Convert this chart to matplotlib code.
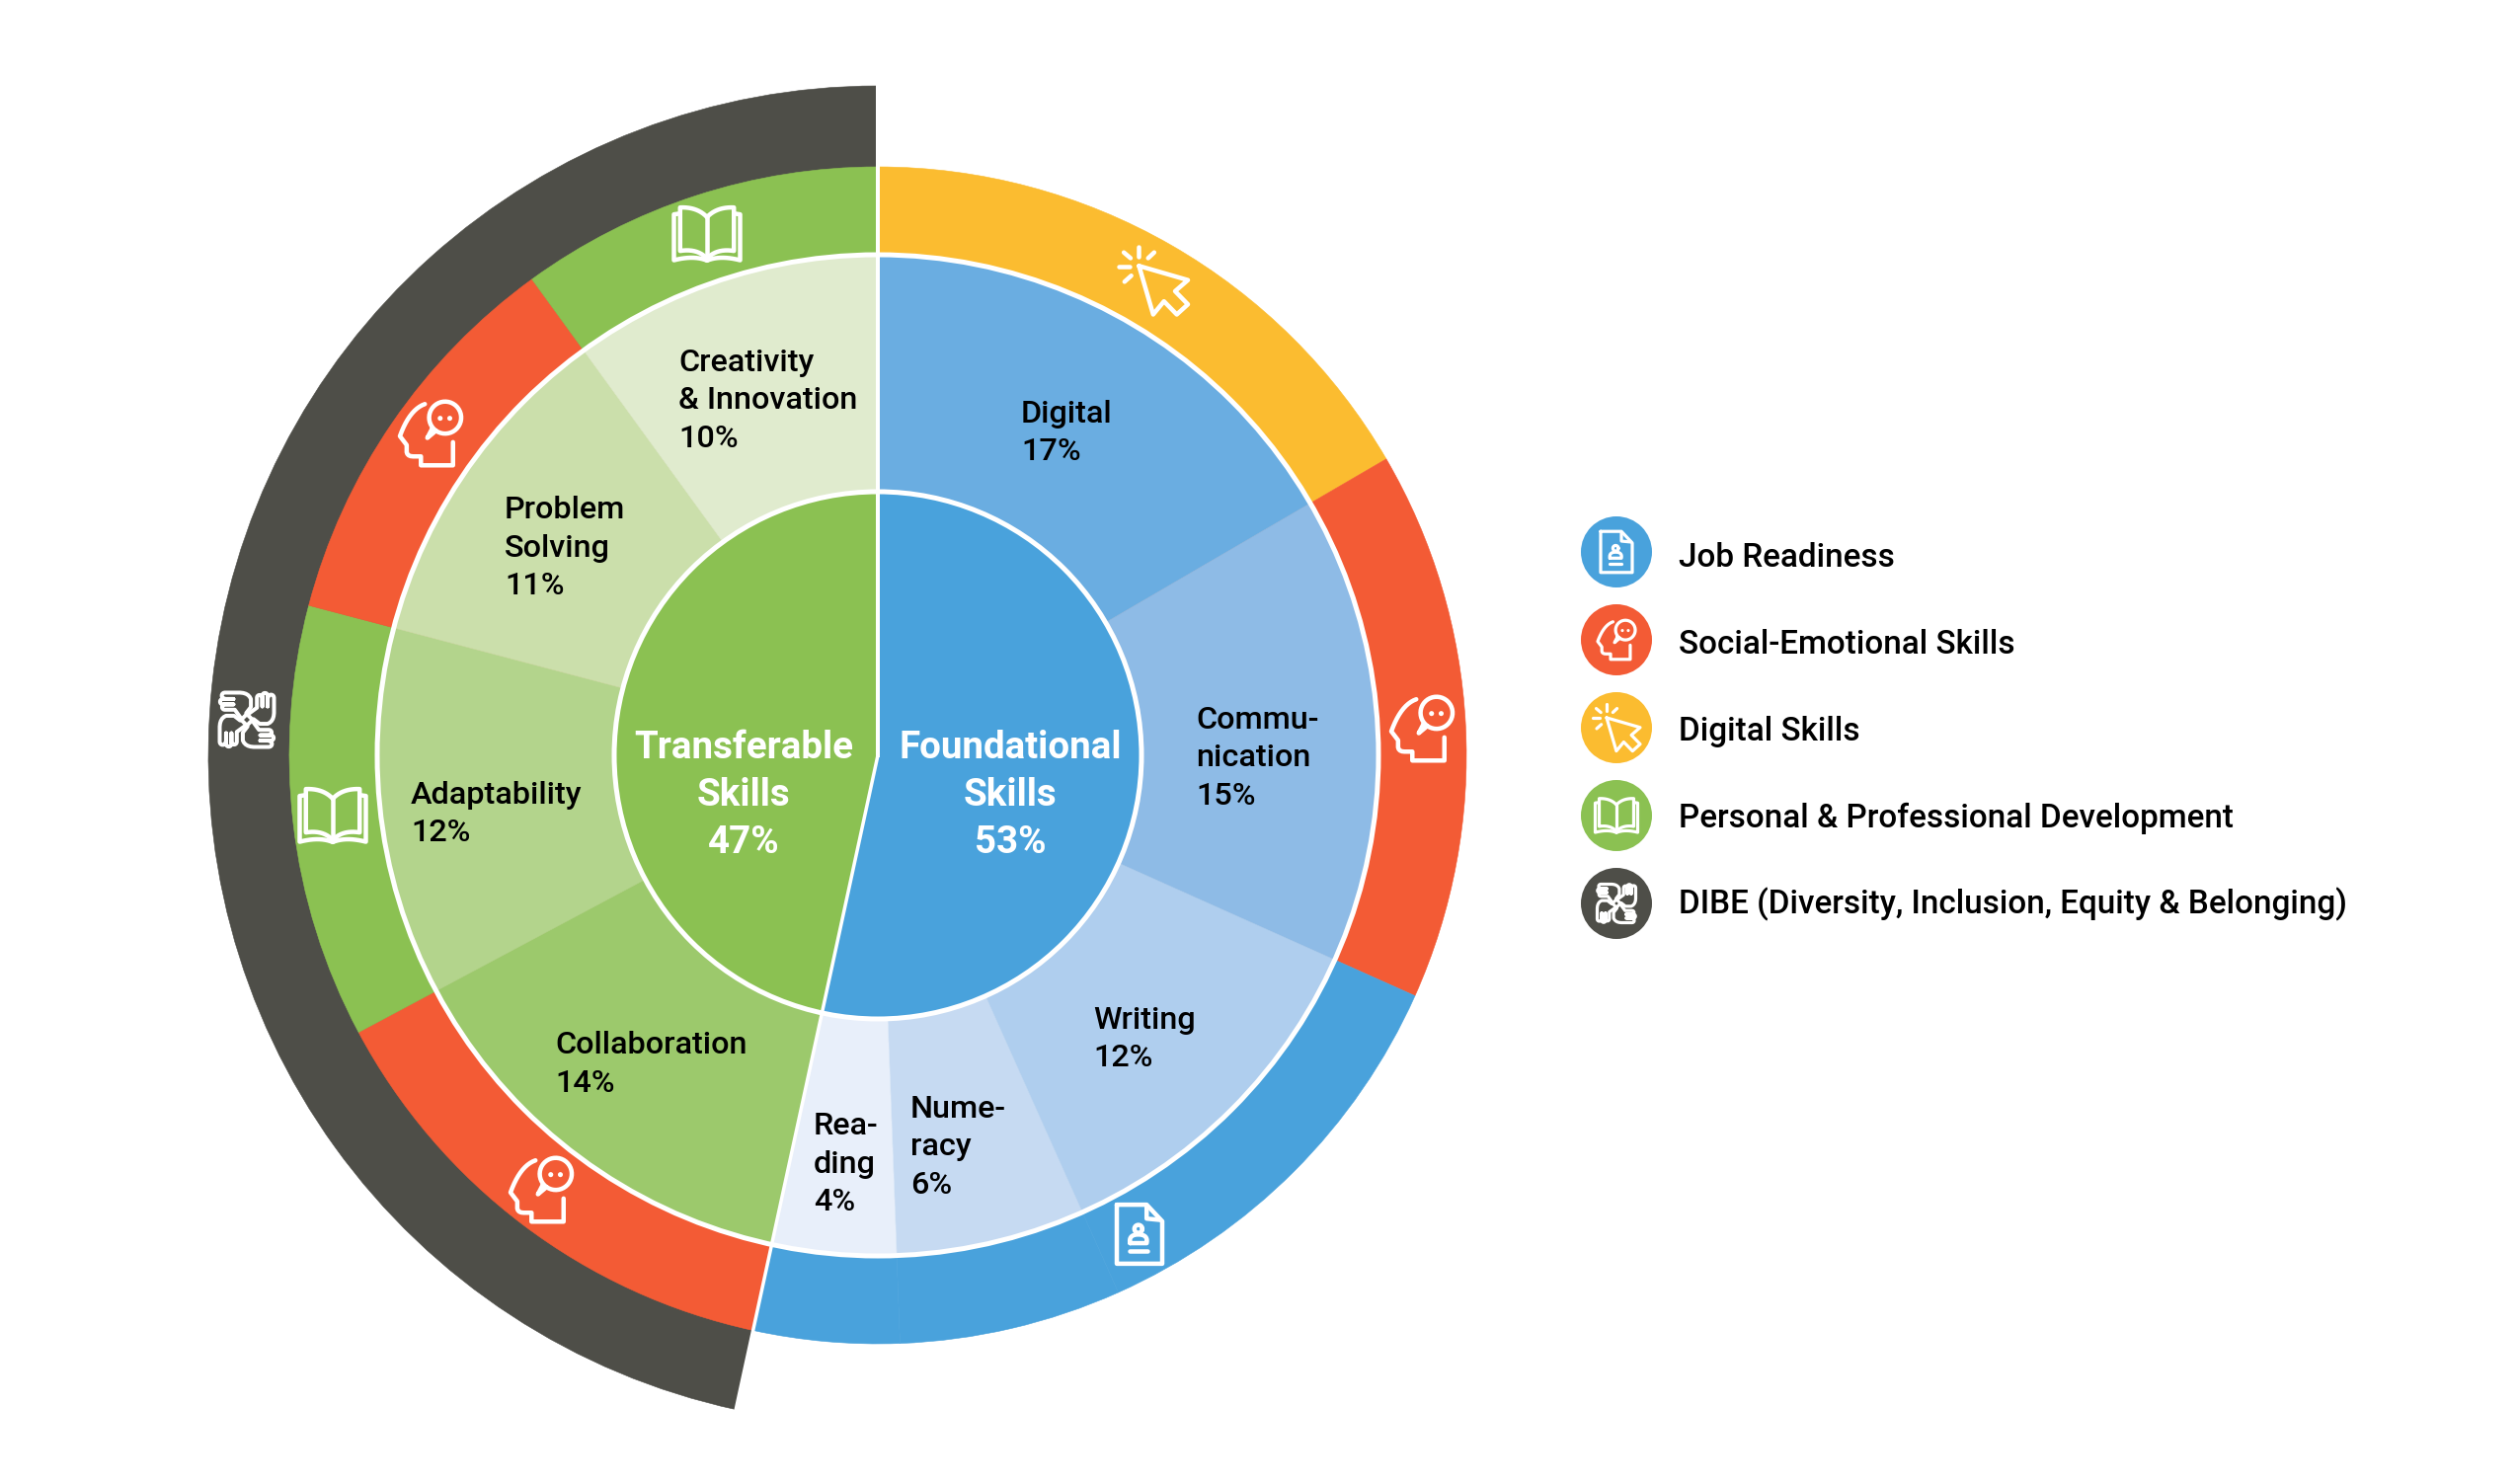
import numpy as np
import matplotlib
matplotlib.use('Agg')
import matplotlib.pyplot as plt
from matplotlib.patches import Circle

plt.rcParams['font.family'] = ['Roboto', 'DejaVu Sans']

W, H = 2550, 1503
CX, CY = 889, 765

# inner ring
group_names = ['Foundational\nSkills', 'Transferable\nSkills']
group_labels = [53, 47]
group_shares = [53.4, 46.6]
group_colors = ['#49A2DC', '#8BC152']

# middle ring, clockwise from the top
skill_names = ['Digital', 'Commu-\nnication', 'Writing', 'Nume-\nracy', 'Rea-\nding',
               'Collaboration', 'Adaptability', 'Problem\nSolving', 'Creativity\n& Innovation']
skill_labels = [17, 15, 12, 6, 4, 14, 12, 11, 10]
skill_shares = [16.6, 15.1, 11.6, 6.1, 4.0, 13.8, 11.9, 10.9, 10.0]
skill_colors = ['#6AADE1', '#8EBBE6', '#AFCEEE', '#C6DAF2', '#E8EFFA',
                '#9CC96C', '#B3D48C', '#CBDFAB', '#E0EBCE']

# outer ring, same slices coloured by category
BLUE, RED, YELLOW, GREEN, DARK = '#49A2DC', '#F35B35', '#FBBC30', '#8BC152', '#4E4E48'
category_colors = [YELLOW, RED, BLUE, BLUE, BLUE, RED, GREEN, RED, GREEN]

legend_names = ['Job Readiness', 'Social-Emotional Skills', 'Digital Skills',
                'Personal & Professional Development',
                'DIBE (Diversity, Inclusion, Equity & Belonging)']
legend_colors = [BLUE, RED, YELLOW, GREEN, DARK]
legend_icons = ['doc', 'head', 'cursor', 'book', 'hands']

# pixel places of the skill labels (left edge, first baseline)
skill_pos = [(1034, 428), (1211, 738), (1107, 1042), (922, 1132), (824, 1149),
             (562, 1067), (416, 814), (511, 525), (687, 376)]


def Y(py):
    return H - py


def qb(p0, p1, p2, n=12):
    t = np.linspace(0, 1, n)[:, None]
    p0, p1, p2 = np.array(p0, float), np.array(p1, float), np.array(p2, float)
    return (1 - t) ** 2 * p0 + 2 * t * (1 - t) * p1 + t ** 2 * p2


def arc(cx, cy, r, a0, a1, n=30):
    a = np.radians(np.linspace(a0, a1, n))
    return np.column_stack([cx + r * np.cos(a), cy + r * np.sin(a)])


def cursor_icon():
    arrow = [(310, 208), (455, 250), (417, 283), (455, 322), (422, 352), (384, 313), (352, 352), (310, 208)]
    sparks = [[(310, 150), (310, 180)], [(265, 168), (285, 185)], [(355, 168), (337, 185)],
              [(250, 210), (282, 210)], [(267, 255), (287, 237)]]
    return [np.array(arrow, float)] + [np.array(s, float) for s in sparks], []


def head_icon():
    outline = np.vstack([
        [(133, 90)],
        qb((133, 90), (90, 105), (63, 180)),
        [(82, 205), (82, 225)],
        qb((82, 225), (84, 237), (100, 237), 5),
        [(122, 237), (122, 262), (212, 262), (212, 197)],
    ])
    bubble = np.vstack([arc(190, 128, 45, 125, 385 + 100, 40), [(140, 185), (153, 160)]])
    return [outline, bubble], [(176, 130, 7), (203, 130, 7)]


def doc_icon():
    page = np.array([(93, 62), (183, 62), (230, 112), (230, 240), (93, 240), (93, 62)], float)
    fold = np.array([(183, 68), (183, 104), (224, 108)], float)
    body = np.vstack([qb((133, 178), (128, 152), (158, 152)), qb((158, 152), (188, 152), (183, 178)),
                      [(133, 178)]])
    bar = np.array([(133, 201), (185, 201)], float)
    return [page, fold, body, bar, arc(158, 135, 12, 0, 360)], []


def book_icon():
    mid = 413
    strokes = []
    for sgn in (-1, 1):
        page = np.vstack([qb((mid, 480), (mid + sgn * 28, 450), (mid + sgn * 78, 452)),
                          qb((mid + sgn * 78, 578), (mid + sgn * 28, 570), (mid, 600))])
        cover = np.vstack([[(mid + sgn * 82, 470), (mid + sgn * 96, 472), (mid + sgn * 96, 605)],
                           qb((mid + sgn * 96, 605), (mid + sgn * 38, 590), (mid, 606))])
        strokes += [page, cover]
    strokes.append(np.array([(mid, 480), (mid, 600)], float))
    return strokes, []


def hands_icon():
    # one hand, turned four times round the middle
    hand = np.vstack([
        [(8, -20), (30, -36), (30, -66)],
        arc(38, -66, 8, 180, 360, 8),
        [(46, -40), (46, -72)],
        arc(54, -72, 8, 180, 360, 8),
        [(62, -40), (62, -68)],
        arc(72, -66, 9, 180, 360, 8),
        [(81, -20)],
        qb((81, -20), (80, 5), (62, 12), 6),
        [(38, 12), (20, -2)],
    ])
    strokes = []
    for k in range(4):
        a = np.radians(90 * k)
        rot = np.array([[np.cos(a), -np.sin(a)], [np.sin(a), np.cos(a)]])
        strokes.append(hand @ rot.T)
    diamond = np.array([(0, -17), (17, 0), (0, 17), (-17, 0), (0, -17)], float)
    strokes.append(diamond)
    return strokes, []


ICONS = {'cursor': cursor_icon, 'head': head_icon, 'doc': doc_icon, 'book': book_icon, 'hands': hands_icon}


def draw_icon(ax, name, cx, cy, width, stroke_px):
    strokes, dots = ICONS[name]()
    pts = np.vstack(strokes)
    xmid = (pts[:, 0].min() + pts[:, 0].max()) / 2
    ymid = (pts[:, 1].min() + pts[:, 1].max()) / 2
    k = width / (pts[:, 0].max() - pts[:, 0].min())
    for s in strokes:
        ax.plot(cx + (s[:, 0] - xmid) * k, Y(cy + (s[:, 1] - ymid) * k), color='white',
                lw=stroke_px * 0.72, solid_capstyle='round', solid_joinstyle='round', zorder=6)
    for x, y, r in dots:
        ax.add_patch(Circle((cx + (x - xmid) * k, Y(cy + (y - ymid) * k)), r * k, fc='white', ec='none', zorder=6))


def ring(ax, values, radius, colors):
    wedges, _ = ax.pie(values, radius=radius, center=(CX, Y(CY)), startangle=90, counterclock=False,
                       colors=colors, frame=True)
    # thin edge in the slice's own colour so only a faint seam is left
    for w in wedges:
        w.set_edgecolor(w.get_facecolor())
        w.set_linewidth(0.4)


fig = plt.figure(figsize=(W / 100, H / 100), dpi=100)
ax = fig.add_axes([0, 0, 1, 1])
center = (CX, Y(CY))

ring(ax, group_shares, 678, ['none', DARK])
ring(ax, skill_shares, 596, category_colors)
ring(ax, skill_shares, 507, skill_colors)
ring(ax, group_shares, 267, group_colors)

for r in (267, 507):
    ax.add_patch(Circle(center, r, fc='none', ec='white', lw=5 * 0.72, zorder=3))

# the white split between the two halves
split = np.radians(group_shares[0] * 3.6)
ax.plot([CX, CX], [Y(CY), Y(CY) + 690], color='white', lw=4 * 0.72, zorder=4)
ax.plot([CX, CX + 682 * np.sin(split)], [Y(CY), Y(CY) + 682 * np.cos(split)], color='white', lw=3.5 * 0.72, zorder=4)

# labels
LINE = 38.5
for name, val, (x, y) in zip(skill_names, skill_labels, skill_pos):
    for i, line in enumerate(name.split('\n') + [f'{val}%']):
        ax.text(x, Y(y + i * LINE), line, fontsize=23.3, fontweight='medium', color='black', va='baseline', zorder=5)

group_x = [1023, 753]
for name, val, x in zip(group_names, group_labels, group_x):
    for i, line in enumerate(name.split('\n') + [f'{val}%']):
        ax.text(x, Y(768.5 + i * 48), line, fontsize=27.7, fontweight='bold', color='white',
                ha='center', va='baseline', zorder=5)

# icons on the rings
draw_icon(ax, 'cursor', 1168, 284, 70, 4.5)
draw_icon(ax, 'head', 1440, 738, 62, 4.5)
draw_icon(ax, 'doc', 1154, 1250, 46, 4.5)
draw_icon(ax, 'head', 548, 1205, 62, 4.5)
draw_icon(ax, 'book', 337, 826, 67, 4.5)
draw_icon(ax, 'head', 436, 439, 62, 4.5)
draw_icon(ax, 'book', 716, 237, 67, 4.5)
draw_icon(ax, 'hands', 250, 729, 55, 4)

# legend
legend_width = {'doc': 32, 'head': 38, 'cursor': 48, 'book': 43, 'hands': 39}
for i, (name, col, icon) in enumerate(zip(legend_names, legend_colors, legend_icons)):
    ly = 559 + i * 89
    ax.add_patch(Circle((1637, Y(ly)), 36, fc=col, ec='none', zorder=5))
    draw_icon(ax, icon, 1637, ly, legend_width[icon], 3.2)
    ax.text(1700, Y(574.5 + i * 87.8), name, fontsize=23.95, fontweight='medium', color='black', va='baseline')

ax.set_xlim(0, W)
ax.set_ylim(0, H)
ax.set_aspect('equal')
ax.axis('off')
fig.savefig('out.png', dpi=100)
